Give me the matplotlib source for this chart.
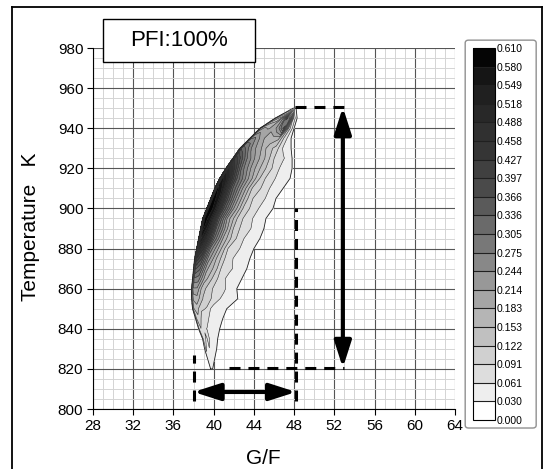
import numpy as np
import matplotlib
matplotlib.use("Agg")
import matplotlib.pyplot as plt
from matplotlib.patches import Rectangle, FancyBboxPatch
from matplotlib.lines import Line2D

plt.rcParams['font.family'] = ['Liberation Sans', 'DejaVu Sans']

# contour levels (legend labels) and their grey fills, bottom to top
levels = [0.000, 0.030, 0.061, 0.091, 0.122, 0.153, 0.183, 0.214, 0.244, 0.275,
          0.305, 0.336, 0.366, 0.397, 0.427, 0.458, 0.488, 0.518, 0.549, 0.580, 0.610]
level_labels = ['%.3f' % v for v in levels]
greys = ['#ffffff', '#eeeeee', '#dddddd', '#d0d0d0', '#c0c0c0', '#b5b5b5', '#a5a5a5',
         '#989898', '#888888', '#787878', '#6a6a6a', '#5a5a5a', '#4a4a4a', '#404040',
         '#353535', '#303030', '#282828', '#202020', '#151515', '#050505']

# operating region: temperature rows, left/right G/F edge
temps = [820, 825, 830, 835, 840, 845, 850, 855, 860, 865, 870, 875, 880, 885,
         890, 895, 900, 905, 910, 915, 920, 925, 930, 935, 940, 945, 950]
left_edge = [39.7, 39.4, 39.1, 38.9, 38.5, 38.2, 37.9, 37.8, 37.8, 37.9, 38.0, 38.1, 38.3, 38.5,
             38.7, 38.9, 39.3, 39.7, 40.1, 40.6, 41.2, 41.9, 42.6, 43.6, 44.6, 46.1, 47.9]
right_edge = [39.9, 40.1, 40.3, 40.4, 40.6, 40.9, 41.3, 42.4, 42.3, 42.8, 43.3, 43.6, 44.0, 44.6,
              45.0, 45.2, 45.9, 46.2, 46.9, 47.6, 47.8, 47.8, 47.7, 47.7, 48.0, 48.3, 48.2]
# relative position across the band (0 = left edge, 1 = right edge)
band_pos = [0.0, 0.04, 0.12, 0.25, 0.4, 0.55, 0.7, 0.85, 1.0]
# intensity per temperature row, across the band
intensity = [
    [.035, .035, .035, .035, .035, .035, .035, .035, .035],  # 820
    [.035, .040, .050, .040, .045, .040, .040, .040, .035],  # 825
    [.035, .055, .065, .045, .060, .040, .040, .040, .035],  # 830
    [.035, .060, .075, .055, .070, .045, .040, .040, .035],  # 835
    [.035, .070, .090, .065, .060, .050, .045, .040, .035],  # 840
    [.040, .090, .110, .080, .075, .050, .045, .040, .035],  # 845
    [.050, .120, .140, .095, .090, .055, .060, .040, .035],  # 850
    [.070, .160, .170, .120, .095, .070, .050, .040, .035],  # 855
    [.100, .210, .210, .130, .110, .065, .070, .045, .035],  # 860
    [.140, .270, .260, .170, .120, .080, .055, .045, .035],  # 865
    [.200, .340, .310, .190, .140, .075, .065, .045, .035],  # 870
    [.280, .420, .370, .230, .150, .090, .060, .050, .035],  # 875
    [.360, .490, .430, .260, .170, .090, .070, .045, .035],  # 880
    [.420, .550, .490, .310, .180, .110, .065, .050, .035],  # 885
    [.460, .590, .530, .330, .200, .100, .080, .050, .035],  # 890
    [.480, .600, .560, .360, .200, .120, .070, .055, .035],  # 895
    [.480, .600, .570, .370, .220, .120, .075, .050, .035],  # 900
    [.460, .600, .560, .380, .230, .130, .070, .060, .035],  # 905
    [.420, .590, .540, .350, .220, .120, .085, .050, .035],  # 910
    [.380, .560, .500, .330, .220, .130, .070, .055, .035],  # 915
    [.320, .500, .440, .290, .200, .140, .090, .050, .035],  # 920
    [.260, .420, .370, .270, .200, .150, .090, .065, .035],  # 925
    [.200, .330, .300, .230, .190, .140, .110, .055, .035],  # 930
    [.140, .240, .250, .210, .170, .170, .160, .075, .035],  # 935
    [.090, .160, .190, .180, .190, .240, .320, .110, .035],  # 940
    [.050, .080, .110, .140, .220, .320, .260, .080, .035],  # 945
    [.035, .035, .035, .035, .035, .035, .035, .035, .035],  # 950
]

fig = plt.figure(figsize=(5.46, 4.69), dpi=100)
ax = fig.add_axes([0.1703, 0.1279, 0.663, 0.7697])

T = np.array(temps, dtype=float)
L = np.array(left_edge)
R = np.array(right_edge)
X = L[:, None] + (R - L)[:, None] * np.array(band_pos)[None, :]
Y = np.repeat(T[:, None], len(band_pos), axis=1)
Z = np.array(intensity)

cf = ax.contourf(X, Y, Z, levels=levels, colors=greys)
ax.contour(X, Y, Z, levels=levels[1:], colors='#303030', linewidths=0.4)
ax.plot(np.r_[L, R[::-1], L[0]], np.r_[T, T[::-1], T[0]], color='#202020', lw=0.6)

# grid
ax.set_xlim(28, 64)
ax.set_ylim(800, 980)
ax.set_xticks(np.arange(28, 65, 4))
ax.set_yticks(np.arange(800, 981, 20))
ax.set_xticks(np.arange(28, 65, 1), minor=True)
ax.set_yticks(np.arange(800, 981, 5), minor=True)
ax.set_axisbelow(True)
ax.grid(which='minor', color='#d4d4d4', lw=0.7)
ax.grid(which='major', color='#555555', lw=0.8)
ax.tick_params(which='minor', length=0)
ax.tick_params(which='major', direction='out', length=4, width=0.8, labelsize=11, pad=3)
ax.spines['top'].set_visible(False)
ax.spines['right'].set_visible(False)
ax.set_xlabel('G/F', fontsize=15)
ax.set_ylabel('Temperature   K', fontsize=15)
ax.xaxis.set_label_coords(0.47, -0.112)
ax.yaxis.set_label_coords(-0.145, 0.505)

# dashed guides and range arrows
dash = (0, (3.6, 2.6))
ax.plot([38, 38], [804, 827], color='k', lw=2.2, ls=dash)
ax.plot([48.2, 48.2], [804, 900], color='k', lw=2.2, ls=dash)
ax.plot([41.5, 53], [820.5, 820.5], color='k', lw=2.2, ls=dash)
ax.plot([48.1, 53.5], [950.5, 950.5], color='k', lw=2.2, ls=dash)
arrow = dict(arrowstyle='<|-|>,head_length=1.0,head_width=0.32', color='k', lw=3,
             mutation_scale=16, shrinkA=0, shrinkB=0)
ax.annotate('', xy=(38, 808.5), xytext=(48.2, 808.5), arrowprops=arrow)
ax.annotate('', xy=(52.85, 820.5), xytext=(52.85, 950.5), arrowprops=arrow)

# legend box and colour key
fig.patches.append(FancyBboxPatch((0.852, 0.0874), 0.130, 0.827,
                                  boxstyle='round,pad=0,rounding_size=0.006',
                                  transform=fig.transFigure, facecolor='white',
                                  edgecolor='#909090', lw=1.0, zorder=-1))
cax = fig.add_axes([0.866, 0.1045, 0.0403, 0.793])
cax.set_zorder(2)
cb = fig.colorbar(cf, cax=cax, ticks=levels, drawedges=True)
cb.ax.set_yticklabels(level_labels)
cb.ax.tick_params(length=0, labelsize=7.5, pad=1)
cb.outline.set_linewidth(0.8)
cb.dividers.set_linewidth(0.8)
cb.dividers.set_color('#202020')

# title box
fig.patches.append(Rectangle((0.1886, 0.8678), 0.2784, 0.0917, transform=fig.transFigure,
                             facecolor='white', edgecolor='k', lw=1.0, zorder=3))
fig.text(0.328, 0.9136, 'PFI:100%', fontsize=16, ha='center', va='center', zorder=4)

# outer frame
for xs, ys in [([0.022, 0.022], [0.0, 0.985]), ([0.022, 0.9927], [0.985, 0.985]),
               ([0.9927, 0.9927], [0.0, 0.985])]:
    fig.lines.append(Line2D(xs, ys, transform=fig.transFigure, color='k', lw=1.3))

fig.savefig('out.png', dpi=100)
